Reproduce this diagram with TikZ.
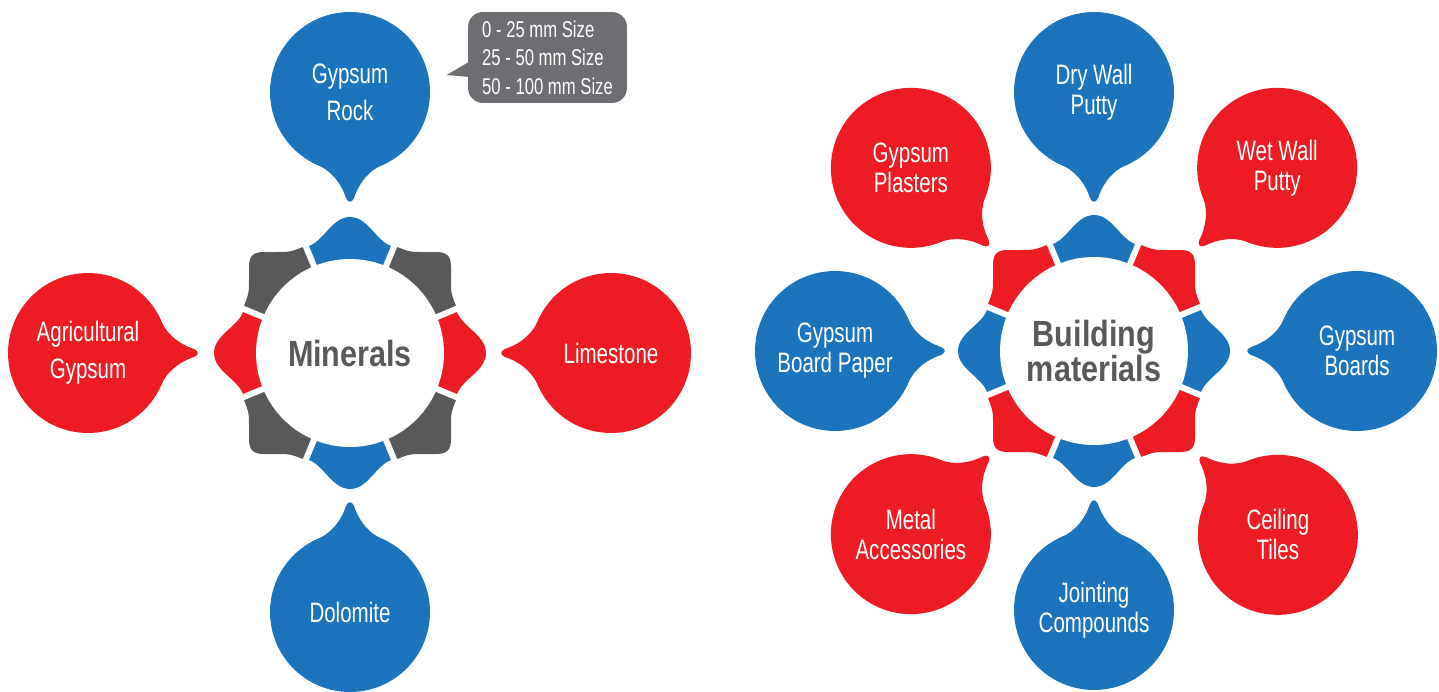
\documentclass[tikz,border=0pt]{standalone}
\usepackage{fontspec}
\newfontfamily\bubblefont{Liberation Sans}[FakeStretch=0.73]
\newfontfamily\hubfont{Liberation Sans}[FakeStretch=0.84]
\definecolor{brandblue}{RGB}{28,117,188}
\definecolor{brandred}{RGB}{237,28,36}
\definecolor{hubgrey}{RGB}{88,89,91}
\definecolor{calloutgrey}{RGB}{109,110,113}
\pgfdeclarelayer{back}
\pgfsetlayers{back,main}

\tikzset{
  hub outline/.style={insert path={(-86,101) -- (-75,101) .. controls (-60,101) .. (-47,106)
    .. controls (-28,106) and (-20,136) .. (0,136) .. controls (20,136) and (28,106) .. (47,106)
    .. controls (60,101) .. (75,101) -- (86,101) .. controls (97,101) and (101,97) .. (101,86)
    -- (101,75) .. controls (101,60) .. (106,47)
    .. controls (106,28) and (136,20) .. (136,0) .. controls (136,-20) and (106,-28) .. (106,-47)
    .. controls (101,-60) .. (101,-75) -- (101,-86) .. controls (101,-97) and (97,-101) .. (86,-101)
    -- (75,-101) .. controls (60,-101) .. (47,-106)
    .. controls (28,-106) and (20,-136) .. (0,-136) .. controls (-20,-136) and (-28,-106) .. (-47,-106)
    .. controls (-60,-101) .. (-75,-101) -- (-86,-101) .. controls (-97,-101) and (-101,-97) .. (-101,-86)
    -- (-101,-75) .. controls (-101,-60) .. (-106,-47)
    .. controls (-106,-28) and (-136,-20) .. (-136,0) .. controls (-136,20) and (-106,28) .. (-106,47)
    .. controls (-101,60) .. (-101,75) -- (-101,86) .. controls (-101,97) and (-97,101) .. (-86,101) -- cycle}},
  bubble tail/.style={insert path={(-34,-72) .. controls (-16,-80) and (-8,-94) .. (-4,-106)
    .. controls (-2,-111) and (2,-111) .. (4,-106) .. controls (8,-94) and (16,-80) .. (34,-72)
    -- (0,0) -- cycle}}
}

\begin{document}
\begin{tikzpicture}[x=0.02cm, y=0.02cm,
    bubble/.style={circle, inner sep=0pt, minimum size=3.2cm, text=white, align=center,
      font=\bubblefont\fontsize{16pt}{21pt}\selectfont},
    tight/.style={font=\bubblefont\fontsize{16pt}{17pt}\selectfont},
    hub/.style={circle, fill=white, inner sep=0pt, minimum size=3.76cm, text=hubgrey, align=center,
      font=\hubfont\bfseries\fontsize{20.7pt}{20pt}\selectfont},
    gap/.style={white, line width=0.12cm}]
  \useasboundingbox (0,0) rectangle (1439,691);

  % minerals
  \begin{scope}[shift={(350,338)}]
    \foreach \a/\c in {0/brandred,45/hubgrey,90/brandblue,135/hubgrey,180/brandred,225/hubgrey,270/brandblue,315/hubgrey} {
      \begin{scope}
        \clip (0,0) -- (\a-22.5:200) -- (\a:200) -- (\a+22.5:200) -- cycle;
        \fill[\c, hub outline];
      \end{scope}
    }
    \foreach \a in {22.5,67.5,...,337.5}
      \draw[gap] (0,0) -- (\a:150);
    \node[hub] (minerals) at (0,0) {Minerals};
    \node[bubble, fill=brandblue] (rock) at (90:261) {Gypsum\\Rock};
    \node[bubble, fill=brandred] (agri) at (180:262) {Agricultural\\Gypsum};
    \node[bubble, fill=brandred] (lime) at (0:261) {Limestone};
    \node[bubble, fill=brandblue] (dolo) at (270:259) {Dolomite};
  \end{scope}
  \begin{pgfonlayer}{back}
    \fill[brandblue, shift={(rock.center)}, bubble tail];
    \fill[brandred, shift={(agri.center)}, rotate=90, bubble tail];
    \fill[brandred, shift={(lime.center)}, rotate=-90, bubble tail];
    \fill[brandblue, shift={(dolo.center)}, rotate=180, bubble tail];
  \end{pgfonlayer}

  % sizes callout
  \node[fill=calloutgrey, rounded corners=0.3cm, text=white, align=left,
    inner xsep=0.26cm, inner ysep=0pt, minimum width=3.18cm, minimum height=1.82cm,
    font=\bubblefont\fontsize{13pt}{16.2pt}\selectfont] (sizes) at (547.5,633.5)
    {0 - 25 mm Size\\25 - 50 mm Size\\50 - 100 mm Size};
  \fill[calloutgrey] ([shift={(2,-4)}]sizes.west) -- ([shift={(-21,-17.5)}]sizes.west)
    -- ([shift={(2,-19.5)}]sizes.west) -- cycle;

  % building materials
  \begin{scope}[shift={(1094,340)}]
    \foreach \a/\c in {0/brandblue,45/brandred,90/brandblue,135/brandred,180/brandblue,225/brandred,270/brandblue,315/brandred} {
      \begin{scope}
        \clip (0,0) -- (\a-22.5:200) -- (\a:200) -- (\a+22.5:200) -- cycle;
        \fill[\c, hub outline];
      \end{scope}
    }
    \foreach \a in {22.5,67.5,...,337.5}
      \draw[gap] (0,0) -- (\a:150);
    \node[hub] (building) at (0,0) {Building\\materials};
    \node[bubble, tight, fill=brandblue] (dry) at (90:259) {Dry Wall\\Putty};
    \node[bubble, tight, fill=brandred] (wet) at (45:259) {Wet Wall\\Putty};
    \node[bubble, tight, fill=brandblue] (boards) at (0:263) {Gypsum\\Boards};
    \node[bubble, tight, fill=brandred] (tiles) at (-45:260) {Ceiling\\Tiles};
    \node[bubble, tight, fill=brandblue] (joint) at (-90:259) {Jointing\\Compounds};
    \node[bubble, tight, fill=brandred] (metal) at (-135:259) {Metal\\Accessories};
    \node[bubble, tight, fill=brandblue] (paper) at (180:259) {Gypsum\\Board Paper};
    \node[bubble, tight, fill=brandred] (plaster) at (135:259) {Gypsum\\Plasters};
  \end{scope}
  \begin{pgfonlayer}{back}
    \fill[brandblue, shift={(dry.center)}, bubble tail];
    \fill[brandred, shift={(wet.center)}, rotate=-45, bubble tail];
    \fill[brandblue, shift={(boards.center)}, rotate=-90, bubble tail];
    \fill[brandred, shift={(tiles.center)}, rotate=-135, bubble tail];
    \fill[brandblue, shift={(joint.center)}, rotate=180, bubble tail];
    \fill[brandred, shift={(metal.center)}, rotate=135, bubble tail];
    \fill[brandblue, shift={(paper.center)}, rotate=90, bubble tail];
    \fill[brandred, shift={(plaster.center)}, rotate=45, bubble tail];
  \end{pgfonlayer}
\end{tikzpicture}
\end{document}
